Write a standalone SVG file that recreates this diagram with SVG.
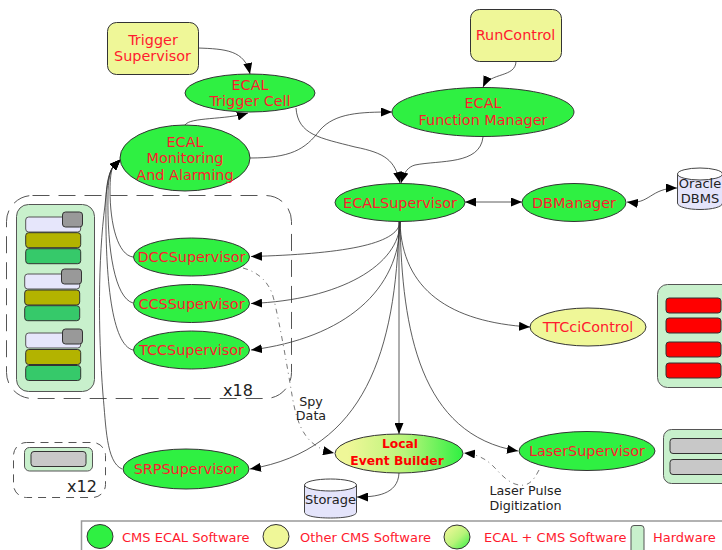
<svg xmlns="http://www.w3.org/2000/svg" width="722" height="550" viewBox="0 0 722 550">
<style>
text{font-family:"DejaVu Sans",sans-serif;text-anchor:middle}
.l{font-size:14.4px;fill:#ff1a2e}
.b{font-size:12.3px;fill:#ff0000;font-weight:bold}
.k{font-size:13px;fill:#222}
.s{font-size:12.700px;fill:#222}
.lg{font-size:13px;fill:#ff1a2e;text-anchor:start}
.g{fill:#2ff042;stroke:#333;stroke-width:1}
.y{fill:#eff798;stroke:#333;stroke-width:1}
.hw{fill:#c8f0cc;stroke:#555;stroke-width:1}
.c{fill:#e4e4fb;stroke:#444;stroke-width:1}
.lav{fill:#e6e6fb;stroke:#555}.gr{fill:#999;stroke:#333}.ol{fill:#b3b300;stroke:#333}.sg{fill:#36c96a;stroke:#333}.sl{fill:#c8c8c8;stroke:#333}.rd{fill:#ff0000;stroke:#333}
.e{fill:none;stroke:#333;stroke-width:.8}
.d{stroke-dasharray:5 4 1 4;stroke:#555}
.ds{fill:none;stroke:#555;stroke-width:1}
</style>
<defs>
<marker id="a" markerUnits="userSpaceOnUse" markerWidth="12" markerHeight="9" refX="11" refY="4.500" orient="auto"><path d="M0,0L11,4.500L0,9z" fill="#000"/></marker>
<marker id="s" markerUnits="userSpaceOnUse" markerWidth="12" markerHeight="9" refX="1" refY="4.500" orient="auto"><path d="M12,0L1,4.500L12,9z" fill="#000"/></marker>
<linearGradient id="mix" x1="0" x2="1" y1="0" y2="0"><stop offset=".1" stop-color="#eff798"/><stop offset=".55" stop-color="#b8f47a"/><stop offset="1" stop-color="#2ff042"/></linearGradient>
<linearGradient id="mix2" x1="0" x2="1" y1="0" y2="1"><stop offset=".1" stop-color="#eff798"/><stop offset=".55" stop-color="#b8f47a"/><stop offset="1" stop-color="#2ff042"/></linearGradient>
</defs>
<g id="hw-group">
<rect class="ds" x="6.500" y="195.500" width="285" height="203" rx="26" stroke-dasharray="17 9"/>
<rect class="hw" x="16.500" y="204.500" width="78" height="187" rx="12"/>
<rect class="lav" x="25.700" y="217" width="55" height="15" rx="3"/><rect class="gr" x="62.500" y="212" width="20" height="15" rx="3"/><rect class="ol" x="25.700" y="232.700" width="55" height="15" rx="3"/><rect class="sg" x="25.700" y="248.700" width="55" height="15" rx="3"/>
<rect class="lav" x="24.700" y="274" width="55" height="15" rx="3"/><rect class="gr" x="61.500" y="269" width="20" height="15" rx="3"/><rect class="ol" x="24.700" y="290" width="55" height="15" rx="3"/><rect class="sg" x="24.700" y="305.700" width="55" height="15" rx="3"/>
<rect class="lav" x="25.700" y="333" width="55" height="15" rx="3"/><rect class="gr" x="62.500" y="329" width="20" height="15" rx="3"/><rect class="ol" x="25.700" y="349.500" width="55" height="15" rx="3"/><rect class="sg" x="25.700" y="365.500" width="55" height="15" rx="3"/>
<text x="238" y="396" style="font-size:16px;fill:#222">x18</text>
</g>
<g id="hw-srp">
<rect class="ds" x="13.500" y="442.500" width="92" height="55" rx="13" stroke-dasharray="8 6"/>
<rect class="hw" x="24.500" y="447.500" width="68" height="23.500" rx="5"/>
<rect class="sl" x="31" y="451.500" width="55" height="15" rx="3"/>
<text x="82" y="492" style="font-size:16px;fill:#222">x12</text>
</g>
<g id="hw-ttc"><rect class="hw" x="657.500" y="284.500" width="80" height="103" rx="10"/>
<rect class="rd" x="666" y="298" width="55" height="15" rx="3"/><rect class="rd" x="666" y="318" width="55" height="15" rx="3"/><rect class="rd" x="666" y="342" width="55" height="15" rx="3"/><rect class="rd" x="666" y="363" width="55" height="15" rx="3"/></g>
<g id="hw-laser"><rect class="hw" x="663.500" y="429.500" width="80" height="54" rx="8"/>
<rect class="sl" x="670" y="438.500" width="55" height="15" rx="3"/><rect class="sl" x="670" y="459.500" width="55" height="15" rx="3"/></g>
<g id="connectors">
<path class="e" marker-end="url(#a)" d="M198,48C225,49 245,50 250,74"/>
<path class="e" marker-end="url(#a)" d="M185,125C190,117 225,120 248,113"/>
<path class="e" marker-end="url(#a)" d="M250,158C290,158 305,150 320,130C335,113 360,112 392,112"/>
<path class="e" marker-end="url(#a)" d="M296,108C298,135 320,138 355,147C385,153 395,160 400,183"/>
<path class="e" marker-end="url(#a)" d="M483,137C480,165 440,160 415,165C408,167 404,172 401,183"/>
<path class="e" marker-end="url(#a)" d="M516,61C516,78 490,72 483,87"/>
<path class="e" marker-start="url(#s)" marker-end="url(#a)" d="M465,202H522"/>
<path class="e" marker-start="url(#s)" marker-end="url(#a)" d="M627,202C650,205 650,188 677,188"/>
<path class="e" marker-end="url(#a)" d="M400,222C398,245 340,254 251,256.500"/>
<path class="e" marker-end="url(#a)" d="M400,222C400,265 340,300 251,303.500"/>
<path class="e" marker-end="url(#a)" d="M400,222C400,290 345,338 251,350"/>
<path class="e" marker-end="url(#a)" d="M400,222C402,290 450,322 530,327"/>
<path class="e" marker-end="url(#a)" d="M399,222V434"/>
<path class="e" marker-end="url(#a)" d="M400,222C402,330 420,435 518,451"/>
<path class="e" marker-end="url(#a)" d="M399,222C396,350 365,450 250,469"/>
<path class="e" marker-end="url(#a)" d="M133,257C118,255 110,225 110,190C110,180 111,170 113,167L120.500,159.500"/>
<path class="e" marker-end="url(#a)" d="M133,303C115,298 107,250 108,195C108,182 110,170 113,167L120.500,159.500"/>
<path class="e" marker-end="url(#a)" d="M133,350C112,345 105,280 106,200C106,185 109,172 113,167L120.500,159.500"/>
<path class="e" marker-end="url(#a)" d="M122,469C106,462 106,425 103,395C98,330 98,260 105,205C107,185 109,172 113,167L120.500,159.500"/>
<path class="e d" marker-end="url(#a)" d="M243,268C258,272 270,282 274,300C280,325 287,365 292,395C297,425 305,447 334,453"/>
<path class="e d" marker-end="url(#a)" d="M539,470C533,482 527,488 515,484C495,476 495,456 464,453"/>
<path class="e" marker-end="url(#a)" d="M399,473C398,495 375,497 357,497"/>
</g>
<g id="trigger-supervisor"><rect class="y" x="107.500" y="22.500" width="91" height="52" rx="9"/><text class="l" x="153" y="45">Trigger</text><text class="l" x="152.500" y="61">Supervisor</text></g>
<g id="run-control"><rect class="y" x="470.500" y="9.500" width="91" height="52" rx="9"/><text class="l" x="515.500" y="40">RunControl</text></g>
<g id="ecal-trigger-cell"><ellipse class="g" cx="250" cy="93" rx="65" ry="19"/><text class="l" x="250" y="90">ECAL</text><text class="l" x="250" y="106">Trigger Cell</text></g>
<g id="ecal-monitoring"><ellipse class="g" cx="185" cy="158" rx="65" ry="33"/><text class="l" x="185" y="147">ECAL</text><text class="l" x="185" y="163">Monitoring</text><text class="l" x="185" y="180">And Alarming</text></g>
<g id="ecal-fm"><ellipse class="g" cx="483" cy="112" rx="91" ry="24.500"/><text class="l" x="483" y="108">ECAL</text><text class="l" x="483" y="125">Function Manager</text></g>
<g id="ecal-supervisor"><ellipse class="g" cx="400" cy="202.500" rx="65" ry="19"/><text class="l" x="400" y="208">ECALSupervisor</text></g>
<g id="db-manager"><ellipse class="g" cx="574" cy="202.500" rx="52" ry="19"/><text class="l" x="574" y="208">DBManager</text></g>
<g id="oracle"><path class="c" d="M677.500,174V203C677.500,207 688,209.500 700,209.500S722.500,207 722.500,203V174"/><ellipse cx="700" cy="174" rx="22.500" ry="6" fill="#fff" stroke="#444"/><text class="k" x="700" y="188">Oracle</text><text class="k" x="700" y="203">DBMS</text></g>
<g id="dcc"><ellipse class="g" cx="191.500" cy="257" rx="58" ry="19"/><text class="l" x="191.500" y="262">DCCSupervisor</text></g>
<g id="ccs"><ellipse class="g" cx="191.500" cy="303.500" rx="58" ry="19"/><text class="l" x="191.500" y="309">CCSSupervisor</text></g>
<g id="tcc"><ellipse class="g" cx="191.500" cy="350" rx="58" ry="19"/><text class="l" x="191.500" y="355">TCCSupervisor</text></g>
<g id="ttcci"><ellipse class="y" cx="588" cy="327" rx="58" ry="19"/><text class="l" x="588" y="332">TTCciControl</text></g>
<g id="laser"><ellipse class="g" cx="587" cy="451" rx="68" ry="19.500"/><text class="l" x="587" y="456">LaserSupervisor</text></g>
<g id="local-eb"><ellipse cx="399" cy="453.500" rx="64" ry="19.500" fill="url(#mix)" stroke="#333"/><text class="b" x="400" y="448">Local</text><text class="b" x="397" y="465">Event Builder</text></g>
<g id="srp"><ellipse class="g" cx="186" cy="469" rx="63" ry="20"/><text class="l" x="186" y="474">SRPSupervisor</text></g>
<g id="storage"><path class="c" d="M304.500,485V512C304.500,516 316,518 330.500,518S356.500,516 356.500,512V485"/><ellipse cx="330.500" cy="485" rx="26" ry="6" fill="#fff" stroke="#444"/><text class="k" x="330.500" y="504">Storage</text></g>
<g id="labels"><text class="s" x="311" y="406">Spy</text><text class="s" x="311" y="420">Data</text>
<text class="s" x="525.500" y="495">Laser Pulse</text><text class="s" x="525.500" y="510">Digitization</text></g>
<g id="legend"><rect x="81.500" y="521" width="660" height="40" fill="#fff" stroke="#999" stroke-width="1.500"/>
<ellipse class="g" cx="100" cy="536.500" rx="13" ry="12"/><text class="lg" x="122" y="542">CMS ECAL Software</text>
<ellipse class="y" cx="276" cy="536.500" rx="13" ry="12"/><text class="lg" x="300" y="542">Other CMS Software</text>
<ellipse cx="457" cy="537" rx="13" ry="12" fill="url(#mix2)" stroke="#333"/><text class="lg" x="484" y="542">ECAL + CMS Software</text>
<rect class="hw" x="631" y="525.500" width="13" height="30" rx="3"/><text class="lg" x="653" y="542">Hardware</text></g>
</svg>
